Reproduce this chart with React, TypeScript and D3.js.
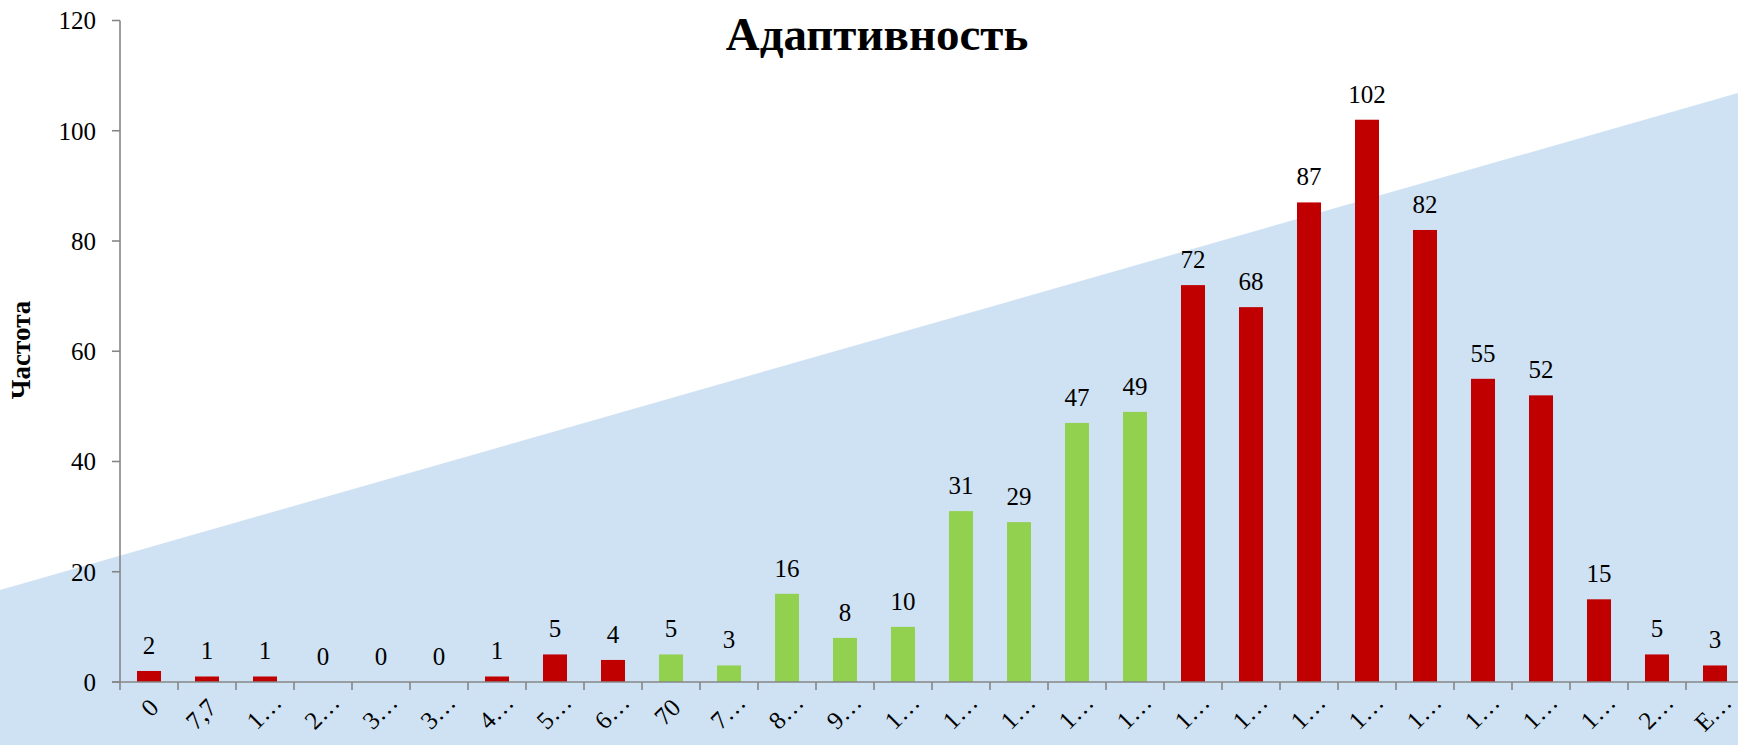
import React from "react";
import * as d3 from "d3";

const title = "Адаптивность";
const yTitle = "Частота";
const binLabels = ["0", "7,7", "1…", "2…", "3…", "3…", "4…", "5…", "6…", "70", "7…", "8…", "9…", "1…", "1…", "1…", "1…", "1…", "1…", "1…", "1…", "1…", "1…", "1…", "1…", "1…", "2…", "E…"];
const values = [2, 1, 1, 0, 0, 0, 1, 5, 4, 5, 3, 16, 8, 10, 31, 29, 47, 49, 72, 68, 87, 102, 82, 55, 52, 15, 5, 3];
const zone = ["out", "out", "out", "out", "out", "out", "out", "out", "out", "in", "in", "in", "in", "in", "in", "in", "in", "in", "out", "out", "out", "out", "out", "out", "out", "out", "out", "out"];
const yTicks = [0, 20, 40, 60, 80, 100, 120];

const W = 1738;
const H = 745;
const FONT = "'Liberation Serif', 'Times New Roman', serif";

export default function App() {
  const idx = binLabels.map((_, i) => i);
  const x = d3
    .scaleBand<number>()
    .domain(idx)
    .range([120, 1744])
    .paddingInner(0.586)
    .paddingOuter(0.293);
  const step = x.step();
  const y = d3.scaleLinear().domain([0, 120]).range([682, 20.5]);
  const color = d3.scaleOrdinal<string, string>().domain(["out", "in"]).range(["#C00000", "#92D050"]);
  const axisColor = "#868686";
  const x0 = 120;
  const xEnd = 1744;

  return (
    <svg
      width={W}
      height={H}
      style={{ position: "absolute", left: 0, top: 0, display: "block", background: "#fff" }}
      fontFamily={FONT}
    >
      <polygon points={`0,590 ${W},93 ${W},${H} 0,${H}`} fill="#CFE2F3" />
      <text x={877} y={50} textAnchor="middle" fontSize={47} fontWeight="bold" fill="#000">
        {title}
      </text>
      <text
        transform={`translate(30,350) rotate(-90)`}
        textAnchor="middle"
        fontSize={27}
        fontWeight="bold"
        fill="#000"
      >
        {yTitle}
      </text>
      {values.map((v, i) => (
        <rect
          key={"b" + i}
          x={x(i)}
          y={y(v)}
          width={x.bandwidth()}
          height={y(0) - y(v)}
          fill={color(zone[i])}
        />
      ))}
      <line x1={x0} x2={x0} y1={y(120)} y2={y(0)} stroke={axisColor} strokeWidth={1.6} />
      {yTicks.map((t) => (
        <g key={"yt" + t}>
          <line x1={x0 - 8} x2={x0} y1={y(t)} y2={y(t)} stroke={axisColor} strokeWidth={1.6} />
          <text x={96} y={y(t)} dy="0.35em" textAnchor="end" fontSize={25} fill="#000">
            {t}
          </text>
        </g>
      ))}
      <line x1={x0 - 8} x2={xEnd} y1={y(0)} y2={y(0)} stroke={axisColor} strokeWidth={1.6} />
      {d3.range(binLabels.length + 1).map((k) => (
        <line
          key={"xt" + k}
          x1={x0 + k * step}
          x2={x0 + k * step}
          y1={y(0)}
          y2={y(0) + 8}
          stroke={axisColor}
          strokeWidth={1.6}
        />
      ))}
      {binLabels.map((l, i) => {
        const cx = (x(i) as number) + x.bandwidth() / 2;
        const ell = l.endsWith("…");
        return (
          <text
            key={"xl" + i}
            transform={`translate(${cx + (ell ? 12 : 5)},${y(0) + (ell ? 16 : 21)}) rotate(-45)`}
            textAnchor="end"
            dy="0.35em"
            fontSize={25}
            fill="#000"
          >
            {l}
          </text>
        );
      })}
      {values.map((v, i) => (
        <text
          key={"dl" + i}
          x={(x(i) as number) + x.bandwidth() / 2}
          y={y(v) - 17}
          textAnchor="middle"
          fontSize={25}
          fill="#000"
        >
          {v}
        </text>
      ))}
    </svg>
  );
}
